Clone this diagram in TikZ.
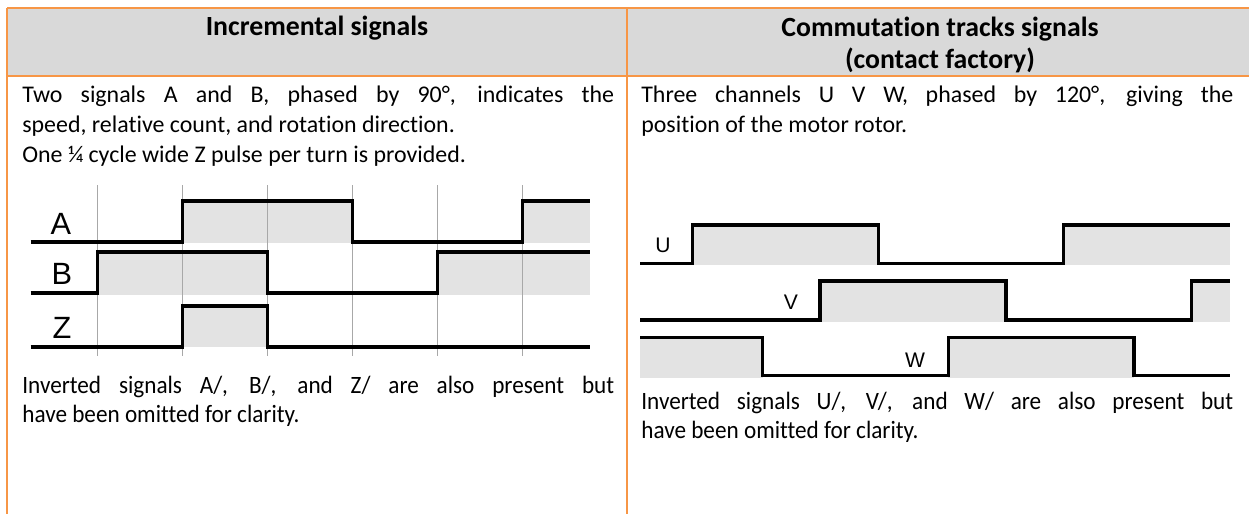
\documentclass[tikz,border=0pt]{standalone}
\usepackage{fontspec}
\setmainfont{Carlito}[Ligatures=NoCommon]
\newfontfamily\wavefont{Liberation Sans}
\usepackage{tikz}
\usetikzlibrary{positioning}
\definecolor{tblorange}{HTML}{F79646}
\definecolor{hdrgray}{HTML}{D9D9D9}
\definecolor{wavegray}{HTML}{E3E3E3}
\definecolor{gridgray}{HTML}{A8A8A8}
\newcommand{\celltext}[1]{\parbox[t]{11.84cm}{\hyphenpenalty=10000\relax #1}}

\begin{document}
\begin{tikzpicture}[x=0.02cm,y=-0.02cm,
  rule/.style={tblorange,line width=1.1pt},
  hdr/.style={font=\fontsize{15.8}{18.7}\selectfont\bfseries,inner sep=0pt,align=center},
  body/.style={font=\fontsize{13.6}{17}\selectfont,inner sep=0pt,anchor=north west},
  note/.style={body,font=\fontsize{14.2}{16.6}\selectfont\addfontfeature{FakeStretch=0.93}},
  wave/.style={line width=1.8pt,line join=miter},
  grid line/.style={gridgray,line width=0.5pt},
  big lbl/.style={font=\wavefont\fontsize{17.5}{20}\selectfont,inner sep=0pt},
  small lbl/.style={font=\wavefont\fontsize{12}{14}\selectfont,inner sep=0pt}]
\useasboundingbox (0,0) rectangle (1249,514);

\fill[hdrgray] (7,8) rectangle (1249,76);
\draw[rule] (7,8) -- (1249,8);
\draw[rule] (7,76) -- (1249,76);
\draw[rule] (7,8) -- (7,514);
\draw[rule] (627,8) -- (627,514);

\node[hdr] (inchead) at (317,28) {Incremental signals};
\node[hdr] (comhead) at (940,45) {Commutation tracks signals\\(contact factory)};

\node[body] (incdesc) at (22,86) {\celltext{Two signals A and B, phased by 90°, indicates the\linebreak
  speed, relative count, and rotation direction.\par
  One ¼ cycle wide Z pulse per turn is provided.}};
\node[body] (comdesc) at (641,86) {\celltext{Three channels U V W, phased by 120°, giving the\linebreak
  position of the motor rotor.}};

\fill[wavegray] (182.7,201) rectangle (352.7,243);
\fill[wavegray] (522.7,201) rectangle (590,243);
\fill[wavegray] (97.7,252) rectangle (267.7,295);
\fill[wavegray] (437.7,252) rectangle (590,295);
\fill[wavegray] (182.7,306) rectangle (267.7,347);
\foreach \gx in {97.7,182.7,267.7,352.7,437.7,522.7}
  \draw[grid line] (\gx,185) -- (\gx,356);

\draw[wave] (30.7,242) -- (182.7,242) -- (182.7,201) -- (352.7,201) -- (352.7,242) -- (522.7,242) -- (522.7,201) -- (590,201);
\draw[wave] (30.7,293) -- (97.7,293) -- (97.7,252) -- (267.7,252) -- (267.7,293) -- (437.7,293) -- (437.7,252) -- (590,252);
\draw[wave] (30.7,347) -- (182.7,347) -- (182.7,306) -- (267.7,306) -- (267.7,347) -- (590,347);
\node[big lbl] (lblA) at (61,224) {A};
\node[big lbl] (lblB) at (62,274) {B};
\node[big lbl] (lblZ) at (62,328) {Z};

\fill[wavegray] (692.7,225) rectangle (878.3,265);
\fill[wavegray] (1063.3,225) rectangle (1230,265);
\fill[wavegray] (820,281) rectangle (1006,322);
\fill[wavegray] (1191.7,281) rectangle (1230,322);
\fill[wavegray] (640,337) rectangle (762.7,378);
\fill[wavegray] (948.3,337) rectangle (1134,378);

\draw[wave] (640,263.3) -- (692.7,263.3) -- (692.7,225) -- (878.3,225) -- (878.3,263.3) -- (1063.3,263.3) -- (1063.3,225) -- (1230,225);
\draw[wave] (640,320) -- (820,320) -- (820,281) -- (1006,281) -- (1006,320) -- (1191.7,320) -- (1191.7,281) -- (1230,281);
\draw[wave] (640,337.3) -- (762.7,337.3) -- (762.7,375.7) -- (948.3,375.7) -- (948.3,337.3) -- (1134,337.3) -- (1134,375.7) -- (1230,375.7);
\node[small lbl] (lblU) at (663,245) {U};
\node[small lbl] (lblV) at (791,302) {V};
\node[small lbl] (lblW) at (915,360) {W};

\node[note] (incnote) at (22,376) {\celltext{Inverted signals A/, B/, and Z/ are also present but\linebreak
  have been omitted for clarity.}};
\node[note] (comnote) at (641,392) {\celltext{Inverted signals U/, V/, and W/ are also present but\linebreak
  have been omitted for clarity.}};
\end{tikzpicture}
\end{document}
